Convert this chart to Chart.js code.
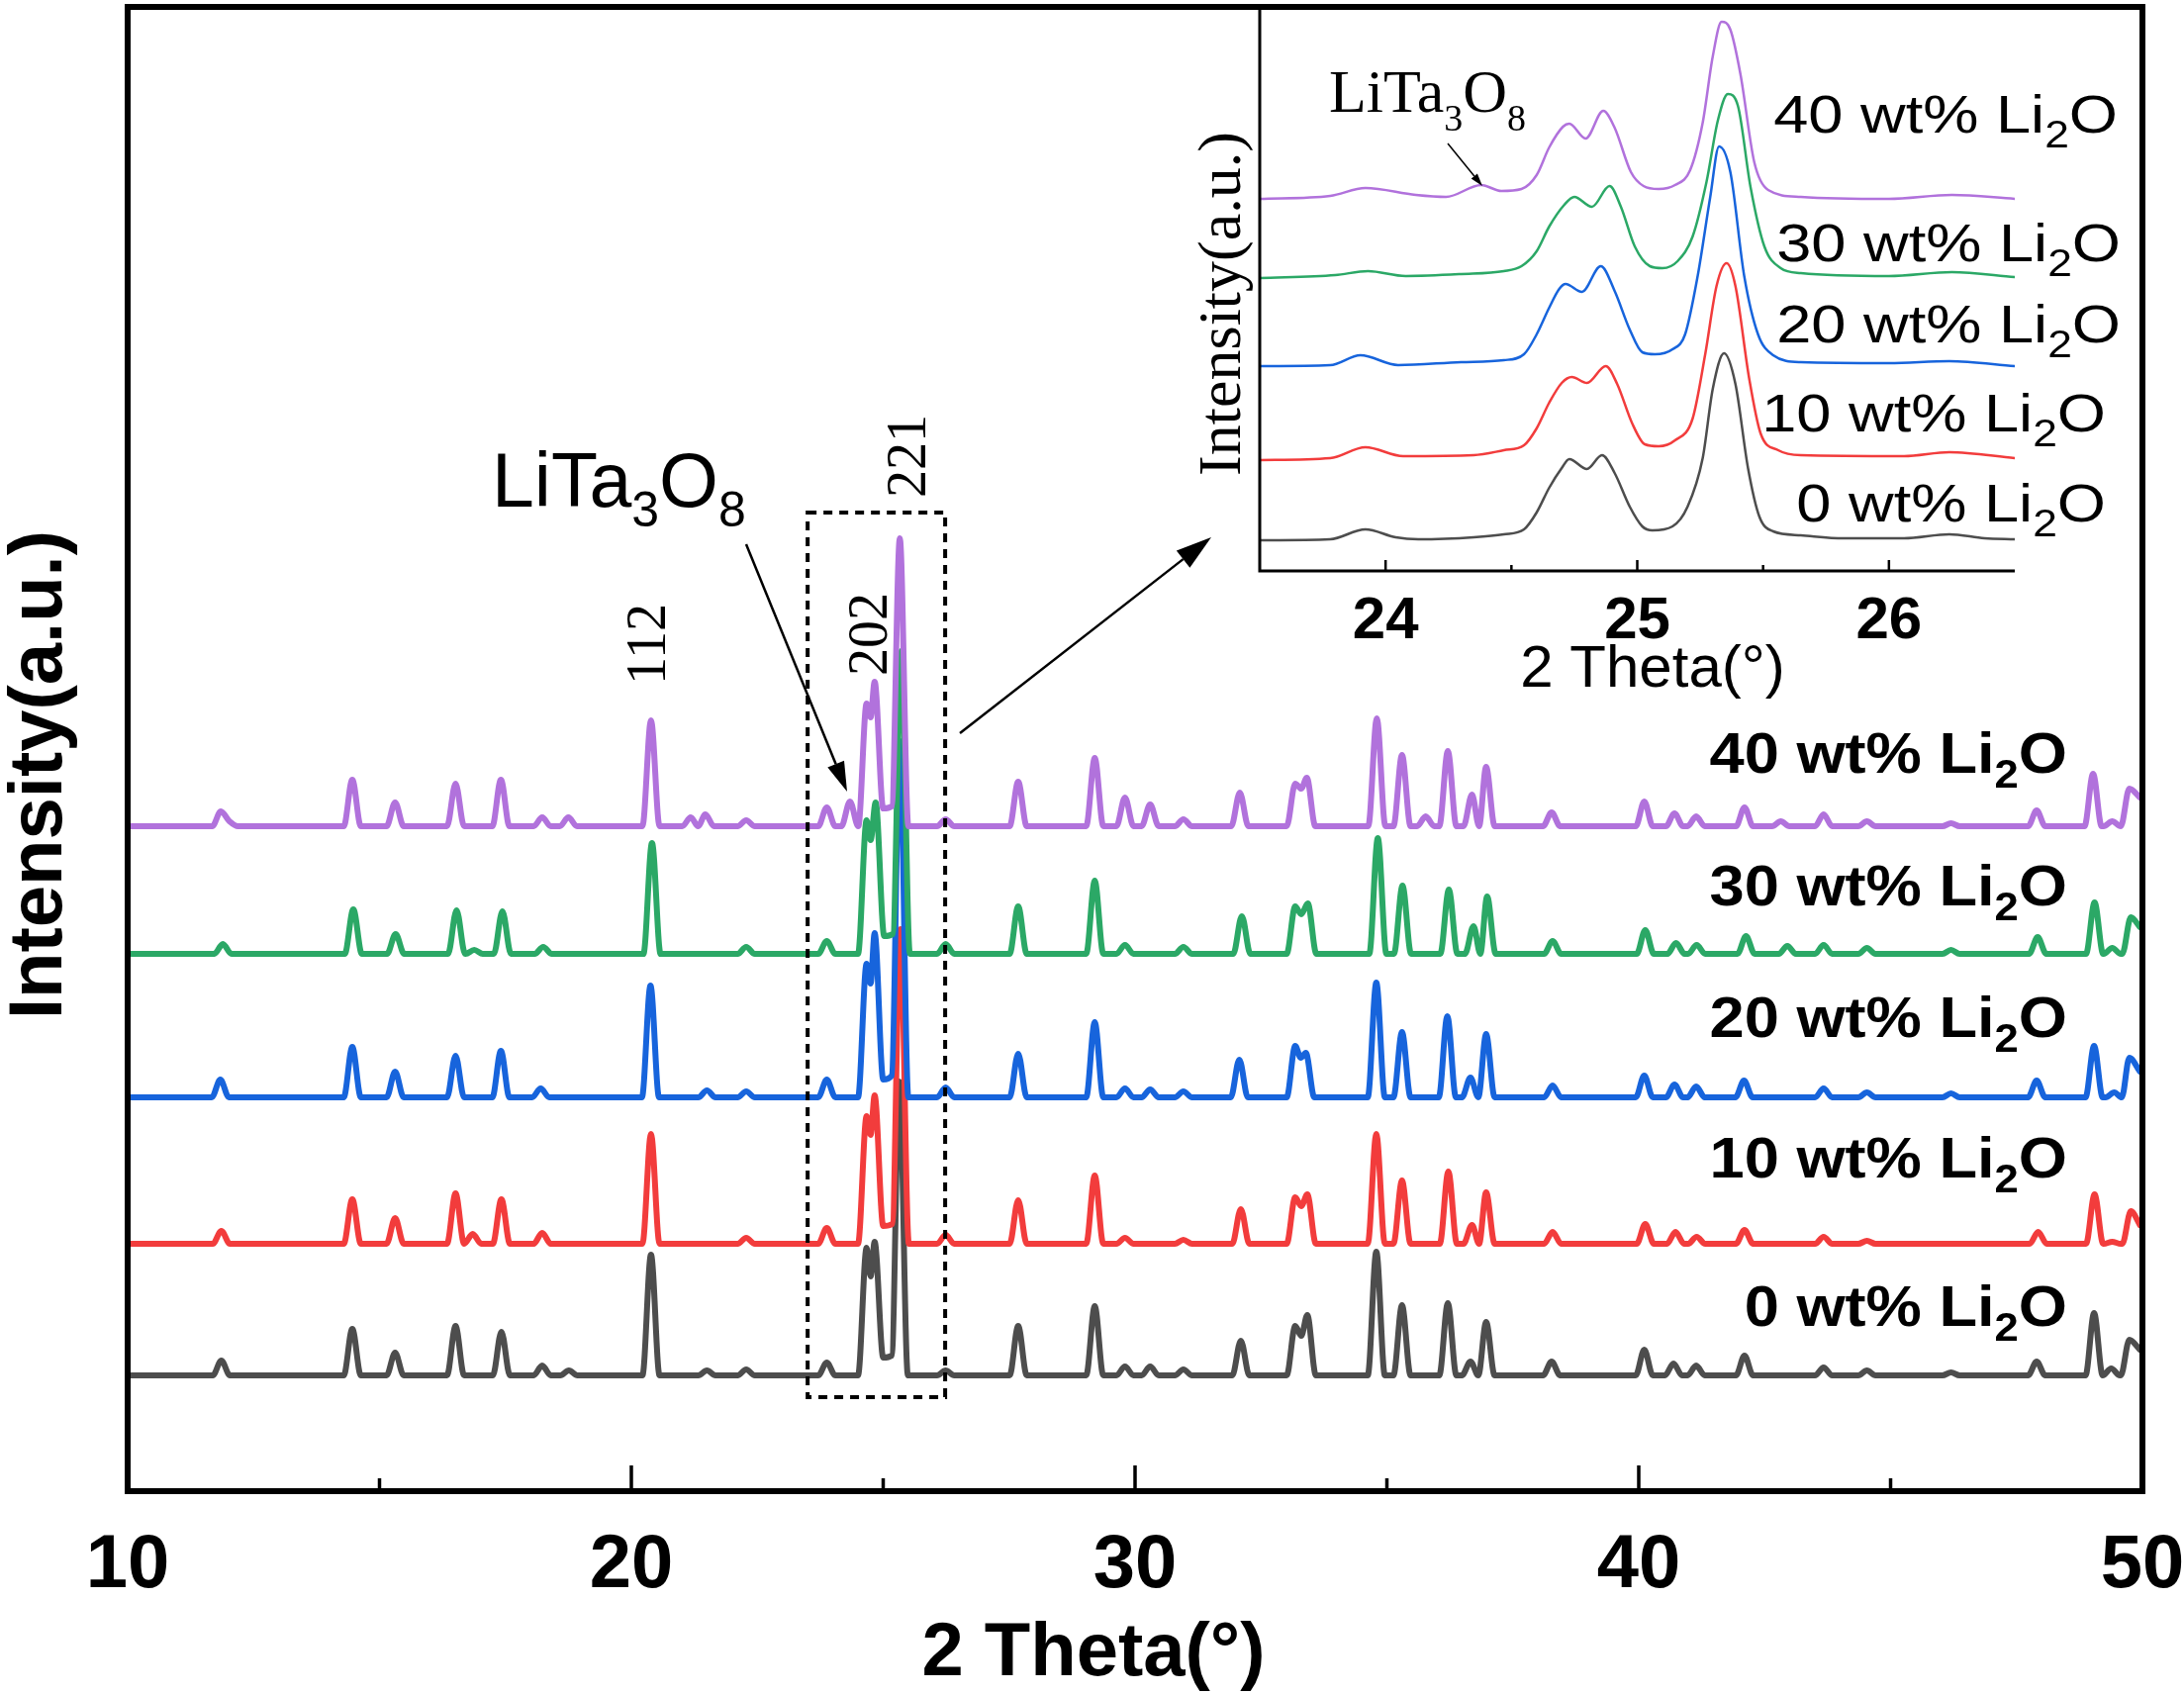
<!DOCTYPE html>
<html>
<head>
<meta charset="utf-8">
<title>XRD patterns, Li2O addition</title>
<script src="https://cdn.jsdelivr.net/npm/chart.js@4.4.0/dist/chart.umd.min.js"></script>
<style>
  html, body { margin: 0; padding: 0; background: #fff; }
  #wrap { position: relative; width: 2207px; height: 1712px; overflow: hidden; }
  #main { position: absolute; left: 0; top: 0; }
  #inset { position: absolute; left: 1150px; top: 0; }
</style>
</head>
<body>
<div id="wrap">
  <canvas id="main" width="2207" height="1712"></canvas>
  <canvas id="inset" width="1057" height="720"></canvas>
</div>
<script>
// ---- data ----
const seriesNames = ['0 wt% Li2O', '10 wt% Li2O', '20 wt% Li2O', '30 wt% Li2O', '40 wt% Li2O'];
const labelParts = [
  ['0 wt% Li', '2', 'O'],
  ['10 wt% Li', '2', 'O'],
  ['20 wt% Li', '2', 'O'],
  ['30 wt% Li', '2', 'O'],
  ['40 wt% Li', '2', 'O']
];
const xTickLabels = [10, 20, 30, 40, 50];
const insetTickLabels = [24, 25, 26];

// vertical offset of each pattern (stacked plot)
const baseOffsets = [117, 250, 398, 543, 672];

// main pattern peaks: [2theta, height above the pattern baseline]
const peaks0 = [[11.86,15],[14.46,47],[15.31,23],[16.51,50],[17.42,44],[18.23,10],[18.76,5],[20.39,122],[21.5,5],[22.28,6],[23.88,13],[24.67,129],[24.75,100],[24.83,135],[25.0,18],[25.17,20],[25.32,297],[26.24,5],[27.68,50],[29.2,70],[29.8,9],[30.3,9],[30.96,6],[32.1,35],[33.18,50],[33.3,40],[33.42,61],[34.79,125],[35.3,71],[36.21,73],[36.66,14],[36.97,54],[38.27,14],[40.11,26],[40.69,12],[41.14,10],[42.1,20],[43.67,8],[44.53,5],[46.2,3],[47.9,14],[49.04,63],[49.38,7],[49.74,36],[49.95,26]];
const peaks10 = [[11.86,13],[14.46,45],[15.31,26],[16.51,51],[16.85,10],[17.42,45],[18.23,11],[20.39,111],[22.28,6],[23.88,16],[24.67,129],[24.75,110],[24.83,150],[25.0,18],[25.18,20],[25.34,318],[26.24,9],[27.68,44],[29.2,69],[29.8,6],[30.96,4],[32.1,35],[33.18,47],[33.3,38],[33.42,50],[34.79,111],[35.3,64],[36.22,73],[36.69,19],[36.97,52],[38.29,12],[40.13,20],[40.73,12],[41.15,7],[42.1,14],[43.67,7],[44.53,3],[47.93,12],[49.05,50],[49.4,2],[49.77,33],[49.95,19]];
const peaks20 = [[11.84,18],[14.46,51],[15.31,26],[16.51,42],[17.41,47],[18.2,9],[20.38,113],[21.5,7],[22.28,6],[23.88,18],[24.67,135],[24.75,115],[24.83,166],[25.0,18],[25.17,22],[25.33,360],[26.24,10],[27.68,44],[29.2,76],[29.8,9],[30.3,8],[30.96,6],[32.07,38],[33.18,52],[33.29,40],[33.39,45],[34.79,116],[35.3,66],[36.2,82],[36.66,20],[36.97,64],[38.29,12],[40.11,22],[40.71,13],[41.14,11],[42.09,17],[43.67,9],[44.53,5],[46.2,4],[47.9,17],[49.04,52],[49.44,5],[49.74,40],[49.95,26]];
const peaks30 = [[11.89,10],[14.48,45],[15.32,20],[16.53,44],[16.88,4],[17.44,43],[18.25,7],[20.41,112],[22.28,7],[23.88,13],[24.67,135],[24.75,115],[24.85,153],[25.02,18],[25.19,20],[25.36,306],[26.24,10],[27.68,48],[29.2,74],[29.8,9],[30.96,7],[32.12,38],[33.18,48],[33.3,40],[33.43,51],[34.82,117],[35.31,69],[36.23,65],[36.72,28],[36.99,58],[38.29,13],[40.13,24],[40.74,11],[41.15,9],[42.13,18],[42.95,8],[43.67,9],[44.53,6],[46.2,4],[47.92,17],[49.05,52],[49.4,6],[49.77,37],[49.95,27]];
const peaks40 = [[11.85,15],[12.02,5],[14.46,47],[15.31,24],[16.51,43],[17.41,47],[18.23,9],[18.75,9],[20.39,107],[21.18,9],[21.47,12],[22.28,6],[23.88,19],[24.34,25],[24.67,124],[24.75,110],[24.83,146],[25.0,18],[25.17,20],[25.33,291],[26.24,7],[27.68,45],[29.2,69],[29.8,29],[30.3,22],[30.96,7],[32.08,34],[33.18,43],[33.3,38],[33.41,49],[34.8,109],[35.3,72],[35.77,10],[36.21,76],[36.69,32],[36.97,60],[38.27,14],[40.11,25],[40.71,13],[41.14,10],[42.1,19],[42.82,5],[43.67,12],[44.53,5],[46.2,3],[47.9,16],[49.02,53],[49.4,5],[49.74,38],[49.95,29]];

// inset (23.5 - 26.5 deg), already stacked: [2theta, intensity]
const inset0 = [[23.5,31],[23.78,32],[23.92,42],[24.04,34],[24.13,32],[24.35,34],[24.47,37],[24.55,42],[24.6,59],[24.65,84],[24.7,104],[24.73,113],[24.8,103],[24.86,117],[24.91,99],[24.97,65],[25.02,45],[25.06,41],[25.14,45],[25.2,65],[25.26,114],[25.3,184],[25.345,220],[25.39,189],[25.44,104],[25.485,55],[25.54,40],[25.65,36],[25.82,33],[26.06,33],[26.24,37],[26.38,33],[26.5,32]];
const inset10 = [[23.5,112],[23.78,114],[23.92,125],[24.07,116],[24.35,117],[24.47,122],[24.55,127],[24.6,144],[24.65,170],[24.7,190],[24.74,196],[24.8,190],[24.875,207],[24.92,189],[24.98,149],[25.03,128],[25.085,126],[25.15,132],[25.22,154],[25.27,219],[25.315,288],[25.355,311],[25.39,288],[25.445,194],[25.49,139],[25.56,122],[25.65,117],[26.06,116],[26.24,120],[26.5,114]];
const inset20 = [[23.5,207],[23.78,208],[23.9,218],[24.05,208],[24.3,211],[24.47,213],[24.55,219],[24.6,239],[24.65,266],[24.69,285],[24.715,290],[24.78,282],[24.855,308],[24.91,283],[24.97,244],[25.02,221],[25.07,219],[25.14,224],[25.19,239],[25.24,298],[25.29,378],[25.325,429],[25.37,403],[25.425,298],[25.48,239],[25.54,218],[25.65,211],[26.0,210],[26.24,212],[26.5,207]];
const inset30 = [[23.5,296],[23.8,299],[23.93,303],[24.08,298],[24.3,300],[24.47,303],[24.54,308],[24.6,323],[24.65,348],[24.71,370],[24.75,378],[24.82,368],[24.89,389],[24.935,368],[24.99,328],[25.05,308],[25.1,306],[25.16,313],[25.22,338],[25.275,393],[25.32,455],[25.36,482],[25.4,470],[25.45,388],[25.505,328],[25.57,306],[25.65,301],[26.0,298],[26.25,302],[26.5,297]];
const inset40 = [[23.5,376],[23.78,379],[23.92,387],[24.12,380],[24.24,378],[24.38,390],[24.46,384],[24.54,386],[24.6,400],[24.65,428],[24.705,449],[24.73,452],[24.795,437],[24.865,465],[24.91,448],[24.975,403],[25.025,389],[25.085,386],[25.15,390],[25.21,405],[25.26,453],[25.3,520],[25.335,555],[25.37,547],[25.41,502],[25.465,413],[25.52,385],[25.65,378],[26.0,376],[26.25,380],[26.5,376]];

// ---- styles ----
const seriesColors = ['#4d4d4d', '#f23c3c', '#1764dc', '#2ba866', '#b172dc'];
const SANS = "'Liberation Sans', Arial, sans-serif";
const SERIF = "'Liberation Serif', 'Times New Roman', serif";
const PEAK_HALF = 0.17;
const OVERLAP_GAP = 0.22;

const mainPeaks = [peaks0, peaks10, peaks20, peaks30, peaks40];
const insetSets = [inset0, inset10, inset20, inset30, inset40];

// turn a peak list into a polyline on top of its baseline
function buildPattern(peaks, base) {
  const pts = [{ x: 10, y: base }];
  let last = null;
  peaks.forEach(([px, h]) => {
    const prevX = last ? last[0] : 10;
    const gap = px - prevX;
    if (gap > 2 * PEAK_HALF) {
      if (last) pts.push({ x: prevX + PEAK_HALF, y: base });
      pts.push({ x: px - PEAK_HALF, y: base });
    } else if (gap > OVERLAP_GAP) {
      // close neighbours: drop back to the baseline once between them
      pts.push({ x: (prevX + px) / 2, y: base });
    }
    pts.push({ x: px, y: base + h });
    last = [px, h];
  });
  if (last && 50 - last[0] > PEAK_HALF) {
    pts.push({ x: last[0] + PEAK_HALF, y: base });
    pts.push({ x: 50, y: base });
  }
  return pts;
}

function arrow(ctx, x1, y1, x2, y2, lw, headLen, headHalf) {
  const ang = Math.atan2(y2 - y1, x2 - x1);
  const bx = x2 - headLen * Math.cos(ang);
  const by = y2 - headLen * Math.sin(ang);
  ctx.lineWidth = lw;
  ctx.beginPath();
  ctx.moveTo(x1, y1);
  ctx.lineTo(bx, by);
  ctx.stroke();
  ctx.beginPath();
  ctx.moveTo(x2, y2);
  ctx.lineTo(bx + headHalf * Math.sin(ang), by - headHalf * Math.cos(ang));
  ctx.lineTo(bx - headHalf * Math.sin(ang), by + headHalf * Math.cos(ang));
  ctx.closePath();
  ctx.fill();
}

// text with subscripts, optionally stretched horizontally
function chemText(ctx, parts, x, y, o) {
  const fontOf = sub => `${o.weight || 'normal'} ${sub ? o.subSize : o.size}px ${o.family}`;
  let w = 0;
  parts.forEach((t, i) => { ctx.font = fontOf(i % 2 === 1); w += ctx.measureText(t).width; });
  const sx = o.stretch || 1;
  const startX = o.align === 'right' ? x - w * sx : x;
  ctx.save();
  ctx.translate(startX, y);
  ctx.scale(sx, 1);
  ctx.textAlign = 'left';
  ctx.textBaseline = 'alphabetic';
  let px = 0;
  parts.forEach((t, i) => {
    const sub = i % 2 === 1;
    ctx.font = fontOf(sub);
    ctx.fillText(t, px, sub ? o.subDy : 0);
    px += ctx.measureText(t).width;
  });
  ctx.restore();
}

function rotatedText(ctx, text, x, y, font) {
  ctx.save();
  ctx.translate(x, y);
  ctx.rotate(-Math.PI / 2);
  ctx.font = font;
  ctx.textAlign = 'center';
  ctx.textBaseline = 'alphabetic';
  ctx.fillText(text, 0, 0);
  ctx.restore();
}

// ---- main chart decorations ----
const mainDecor = {
  id: 'mainDecor',
  afterDraw(chart) {
    const { ctx, chartArea: a, scales: { x, y } } = chart;
    ctx.save();
    ctx.strokeStyle = '#000';
    ctx.fillStyle = '#000';

    // frame
    ctx.lineWidth = 6;
    ctx.strokeRect(a.left, a.top, a.right - a.left, a.bottom - a.top);

    // inward ticks on the bottom axis
    ctx.lineWidth = 3.5;
    xTickLabels.forEach((v, i) => {
      const px = x.getPixelForValue(v);
      ctx.beginPath(); ctx.moveTo(px, a.bottom); ctx.lineTo(px, a.bottom - 26); ctx.stroke();
      if (i < xTickLabels.length - 1) {
        const mx = x.getPixelForValue((v + xTickLabels[i + 1]) / 2);
        ctx.beginPath(); ctx.moveTo(mx, a.bottom); ctx.lineTo(mx, a.bottom - 13); ctx.stroke();
      }
    });

    // dashed zoom box
    ctx.save();
    ctx.lineWidth = 4;
    ctx.setLineDash([9, 7]);
    const bx1 = x.getPixelForValue(23.5), bx2 = x.getPixelForValue(26.23);
    const by1 = y.getPixelForValue(989), by2 = y.getPixelForValue(95);
    ctx.strokeRect(bx1, by1, bx2 - bx1, by2 - by1);
    ctx.restore();

    // arrows
    arrow(ctx, 754, 550, 856, 800, 2.5, 30, 9);
    arrow(ctx, 970, 741, 1224, 543, 2.5, 36, 11);

    // axis titles
    ctx.font = `bold 76px ${SANS}`;
    ctx.textAlign = 'center';
    ctx.textBaseline = 'alphabetic';
    ctx.fillText('2 Theta(°)', 1105, 1693);
    rotatedText(ctx, 'Intensity(a.u.)', 62, 783, `bold 76px ${SANS}`);

    // hkl labels
    const hkl = `56px ${SERIF}`;
    rotatedText(ctx, '112', 672, 651, hkl);
    rotatedText(ctx, '202', 896, 641, hkl);
    rotatedText(ctx, '221', 935, 461, hkl);

    // LiTa3O8 annotation
    chemText(ctx, ['LiTa', '3', 'O', '8'], 497, 512,
      { family: SANS, size: 77, subSize: 50, subDy: 20 });

    // series labels
    const labelBase = [1340, 1190, 1048, 915, 781];
    labelParts.forEach((p, i) => {
      chemText(ctx, p, 2089, labelBase[i],
        { family: SANS, weight: 'bold', size: 58, subSize: 40, subDy: 15, stretch: 1.09, align: 'right' });
    });
    ctx.restore();
  }
};

// ---- inset decorations (inset canvas starts at x = 1150) ----
const insetDecor = {
  id: 'insetDecor',
  afterDraw(chart) {
    const { ctx, chartArea: a, scales: { x } } = chart;
    ctx.save();
    ctx.strokeStyle = '#000';
    ctx.fillStyle = '#000';

    ctx.lineWidth = 3;
    ctx.beginPath();
    ctx.moveTo(a.left, a.top);
    ctx.lineTo(a.left, a.bottom);
    ctx.lineTo(a.right, a.bottom);
    ctx.stroke();

    ctx.lineWidth = 2.5;
    insetTickLabels.forEach((v, i) => {
      const px = x.getPixelForValue(v);
      ctx.beginPath(); ctx.moveTo(px, a.bottom); ctx.lineTo(px, a.bottom - 11); ctx.stroke();
      if (i < insetTickLabels.length - 1) {
        const mx = x.getPixelForValue(v + 0.5);
        ctx.beginPath(); ctx.moveTo(mx, a.bottom); ctx.lineTo(mx, a.bottom - 6); ctx.stroke();
      }
    });

    ctx.font = `60px ${SANS}`;
    ctx.textAlign = 'center';
    ctx.textBaseline = 'alphabetic';
    ctx.fillText('2 Theta(°)', 520, 694);
    rotatedText(ctx, 'Intensity(a.u.)', 103, 307, `62px ${SERIF}`);

    chemText(ctx, ['LiTa', '3', 'O', '8'], 193, 113,
      { family: SERIF, size: 62, subSize: 38, subDy: 19 });
    arrow(ctx, 313, 145, 348, 188, 1.5, 13, 4);

    const right = [978, 978, 993, 993, 990];
    const base = [527, 436, 346, 264, 134];
    labelParts.forEach((p, i) => {
      chemText(ctx, p, right[i], base[i],
        { family: SANS, size: 54, subSize: 38, subDy: 15, stretch: 1.17, align: 'right' });
    });
    ctx.restore();
  }
};

function datasetsFor(dataLists, width) {
  return dataLists.map((pts, i) => ({
    label: seriesNames[i],
    data: pts,
    borderColor: seriesColors[i],
    borderWidth: width,
    borderJoinStyle: 'round',
    borderCapStyle: 'round',
    pointRadius: 0,
    fill: false,
    cubicInterpolationMode: 'monotone',
    order: dataLists.length - 1 - i
  }));
}

const hiddenAxis = { grid: { display: false }, border: { display: false } };

new Chart(document.getElementById('main'), {
  type: 'line',
  data: {
    datasets: datasetsFor(mainPeaks.map((p, i) => buildPattern(p, baseOffsets[i])), 6)
  },
  options: {
    responsive: false,
    devicePixelRatio: 1,
    animation: false,
    layout: { padding: { top: 7, right: 42, left: 0, bottom: 0 } },
    plugins: { legend: { display: false }, tooltip: { enabled: false } },
    scales: {
      x: {
        ...hiddenAxis,
        type: 'linear', min: 10, max: 50,
        afterBuildTicks: s => { s.ticks = xTickLabels.map(v => ({ value: v })); },
        ticks: {
          color: '#000', padding: 30, maxRotation: 0, autoSkip: false,
          font: { family: SANS, weight: 'bold', size: 76, lineHeight: 1 }
        },
        afterFit: s => { s.height = 205; s.paddingLeft = 0; s.paddingRight = 0; }
      },
      y: {
        ...hiddenAxis,
        type: 'linear', min: 0, max: 1500,
        ticks: { display: false },
        afterFit: s => { s.width = 129; }
      }
    }
  },
  plugins: [mainDecor]
});

new Chart(document.getElementById('inset'), {
  type: 'line',
  data: {
    datasets: datasetsFor(insetSets.map(s => s.map(([x, y]) => ({ x, y }))), 2.5)
  },
  options: {
    responsive: false,
    devicePixelRatio: 1,
    animation: false,
    layout: { padding: { top: 7, right: 171, left: 0, bottom: 0 } },
    plugins: { legend: { display: false }, tooltip: { enabled: false } },
    scales: {
      x: {
        ...hiddenAxis,
        type: 'linear', min: 23.5, max: 26.5,
        afterBuildTicks: s => { s.ticks = insetTickLabels.map(v => ({ value: v })); },
        ticks: {
          color: '#000', padding: 13, maxRotation: 0, autoSkip: false,
          font: { family: SANS, weight: 'bold', size: 60, lineHeight: 1 }
        },
        afterFit: s => { s.height = 143; s.paddingLeft = 0; s.paddingRight = 0; }
      },
      y: {
        ...hiddenAxis,
        type: 'linear', min: 0, max: 570,
        ticks: { display: false },
        afterFit: s => { s.width = 123; }
      }
    }
  },
  plugins: [insetDecor]
});
</script>
</body>
</html>
